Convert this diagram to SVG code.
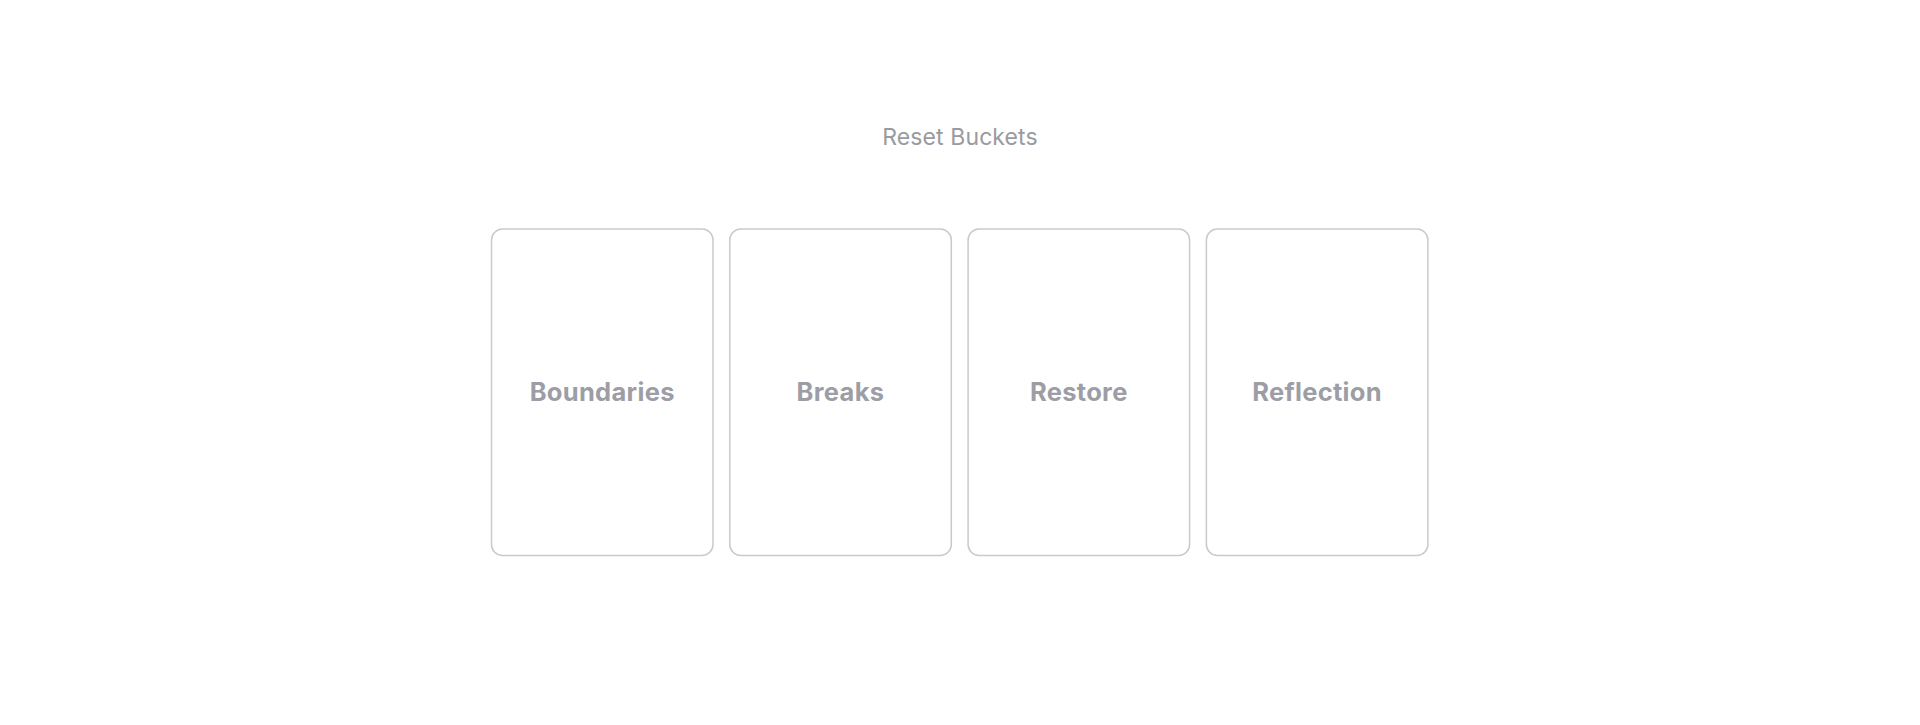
<svg xmlns="http://www.w3.org/2000/svg" width="1920" height="725" viewBox="0 0 1920 725">
<style>
.card{fill:#ffffff;stroke:#c9c9d0;stroke-width:1.5}
.lbl{font-family:Inter,"Liberation Sans",sans-serif;font-size:25.5px;font-weight:700;fill:#9d9da6;text-anchor:middle;letter-spacing:0.3px}
.title{font-family:Inter,"Liberation Sans",sans-serif;font-size:23px;font-weight:400;fill:#9a9aa0;text-anchor:middle;letter-spacing:0.1px}
</style>
<rect width="1920" height="725" fill="#ffffff"/>
<text class="title" x="960" y="145">Reset Buckets</text>
<g id="node-boundaries">
<rect class="card" x="491.5" y="229" width="221.5" height="326.5" rx="11"/>
<text class="lbl" x="602.2" y="401">Boundaries</text>
</g>
<g id="node-breaks">
<rect class="card" x="729.8" y="229" width="221.5" height="326.5" rx="11"/>
<text class="lbl" x="840.5" y="401">Breaks</text>
</g>
<g id="node-restore">
<rect class="card" x="968.1" y="229" width="221.5" height="326.5" rx="11"/>
<text class="lbl" x="1078.8" y="401">Restore</text>
</g>
<g id="node-reflection">
<rect class="card" x="1206.4" y="229" width="221.5" height="326.5" rx="11"/>
<text class="lbl" x="1317.1" y="401">Reflection</text>
</g>
<g id="connectors"></g>
</svg>
